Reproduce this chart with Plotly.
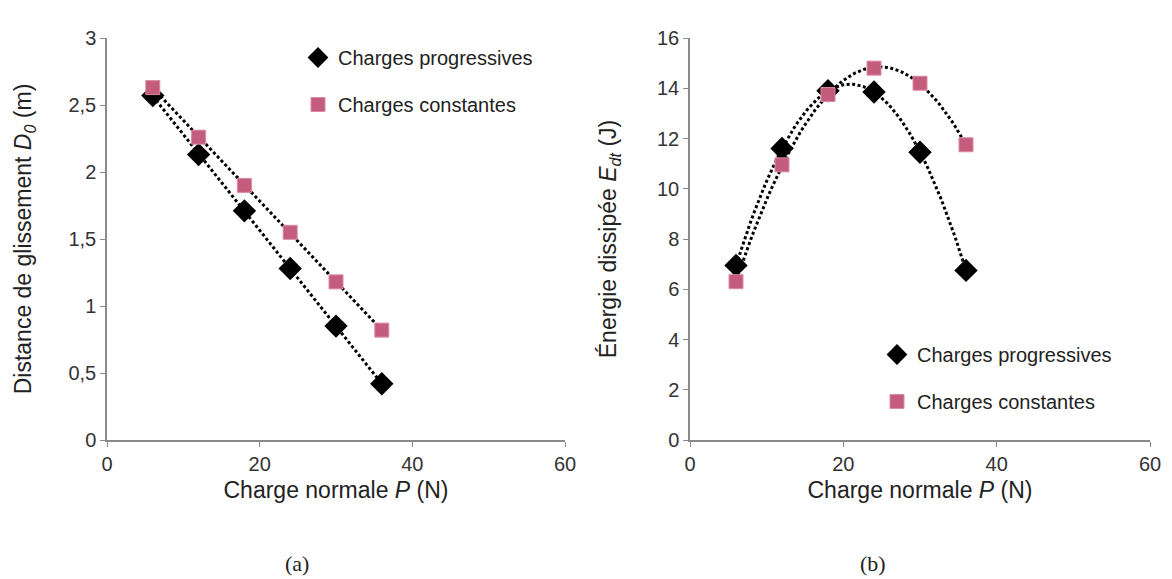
import numpy as np
import plotly.graph_objects as go

# charge normale P (N)
charge = [6, 12, 18, 24, 30, 36]

# (a) distance de glissement D0 (m)
d0_progressives = [2.57, 2.13, 1.71, 1.28, 0.85, 0.42]
d0_constantes = [2.63, 2.26, 1.90, 1.55, 1.18, 0.82]

# (b) energie dissipee Edt (J)
edt_progressives = [6.95, 11.6, 13.9, 13.85, 11.45, 6.75]
edt_constantes = [6.3, 10.95, 13.75, 14.8, 14.2, 11.75]

W, H = 1172, 579
OFF = 8  # page body margin
FONT = "Liberation Sans, Arial, sans-serif"
SERIF = "Liberation Serif, DejaVu Serif, serif"
PINK = "#c45c7e"


def px_x(p):
    return (p - OFF) / W


def px_y(p):
    return 1 - (p - OFF) / H


def trend(x, y, deg):
    coef = np.polyfit(x, y, deg)
    xs = np.linspace(min(x), max(x), 80)
    return xs, np.polyval(coef, xs)


fig = go.Figure()

panels = [
    ("x", "y", d0_progressives, d0_constantes, 1, "legend"),
    ("x2", "y2", edt_progressives, edt_constantes, 2, "legend2"),
]
for xa, ya, prog, const, deg, leg in panels:
    for vals in (prog, const):
        tx, ty = trend(charge, vals, deg)
        fig.add_trace(go.Scatter(x=tx, y=ty, xaxis=xa, yaxis=ya, mode="lines",
                                 line=dict(color="black", width=3, dash="3px,2.5px"),
                                 showlegend=False, hoverinfo="skip"))
    fig.add_trace(go.Scatter(x=charge, y=prog, xaxis=xa, yaxis=ya, mode="markers",
                             name="Charges progressives", legend=leg, legendgroup="p" + leg,
                             marker=dict(symbol="diamond", size=18, color="black")))
    fig.add_trace(go.Scatter(x=charge, y=const, xaxis=xa, yaxis=ya, mode="markers",
                             name="Charges constantes", legend=leg, legendgroup="c" + leg,
                             marker=dict(symbol="square", size=14, color=PINK,
                                         line=dict(color="#d98aa3", width=1))))

axis_common = dict(showline=True, linecolor="#8a8a8a", linewidth=1.5, showgrid=False,
                   zeroline=False, ticks="outside", ticklen=5, tickcolor="#8a8a8a",
                   automargin=False,
                   tickfont=dict(family=FONT, size=20, color="#333"))
title_font = dict(family=FONT, size=23, color="#222")

fig.update_layout(
    width=W, height=H, margin=dict(l=0, r=0, t=0, b=0),
    paper_bgcolor="white", plot_bgcolor="white",
    font=dict(family=FONT, color="#222"),
    xaxis=dict(domain=[px_x(107), px_x(565)], range=[0, 60], dtick=20, anchor="y",
               title=dict(text="Charge normale <i>P</i> (N)", font=title_font, standoff=8),
               **axis_common),
    yaxis=dict(domain=[px_y(440), px_y(38)], range=[0, 3], dtick=0.5, anchor="x",
               tickformat=".1~f",
               title=dict(text="Distance de glissement <i>D</i><sub><i>0</i></sub> (m)",
                          font=title_font, standoff=30),
               **axis_common),
    xaxis2=dict(domain=[px_x(690), px_x(1150)], range=[0, 60], dtick=20, anchor="y2",
                title=dict(text="Charge normale <i>P</i> (N)", font=title_font, standoff=8),
                **axis_common),
    yaxis2=dict(domain=[px_y(440), px_y(38)], range=[0, 16], dtick=2, anchor="x2",
                title=dict(text="Énergie dissipée <i>E<sub>dt</sub></i> (J)",
                           font=title_font, standoff=34),
                **axis_common),
    separators=",.",
    legend=dict(x=px_x(298), y=px_y(38), xanchor="left", yanchor="top",
                bgcolor="rgba(0,0,0,0)", tracegroupgap=18, itemwidth=30,
                font=dict(family=FONT, size=20, color="#222")),
    legend2=dict(x=px_x(877), y=px_y(335), xanchor="left", yanchor="top",
                 bgcolor="rgba(0,0,0,0)", tracegroupgap=18, itemwidth=30,
                 font=dict(family=FONT, size=20, color="#222")),
    annotations=[
        dict(text="(a)", x=px_x(297), y=px_y(563), xref="paper", yref="paper",
             xanchor="center", yanchor="middle",
             showarrow=False, font=dict(family=SERIF, size=22, color="#222")),
        dict(text="(b)", x=px_x(873), y=px_y(563), xref="paper", yref="paper",
             xanchor="center", yanchor="middle",
             showarrow=False, font=dict(family=SERIF, size=22, color="#222")),
    ],
)

fig.write_html("out.html")
